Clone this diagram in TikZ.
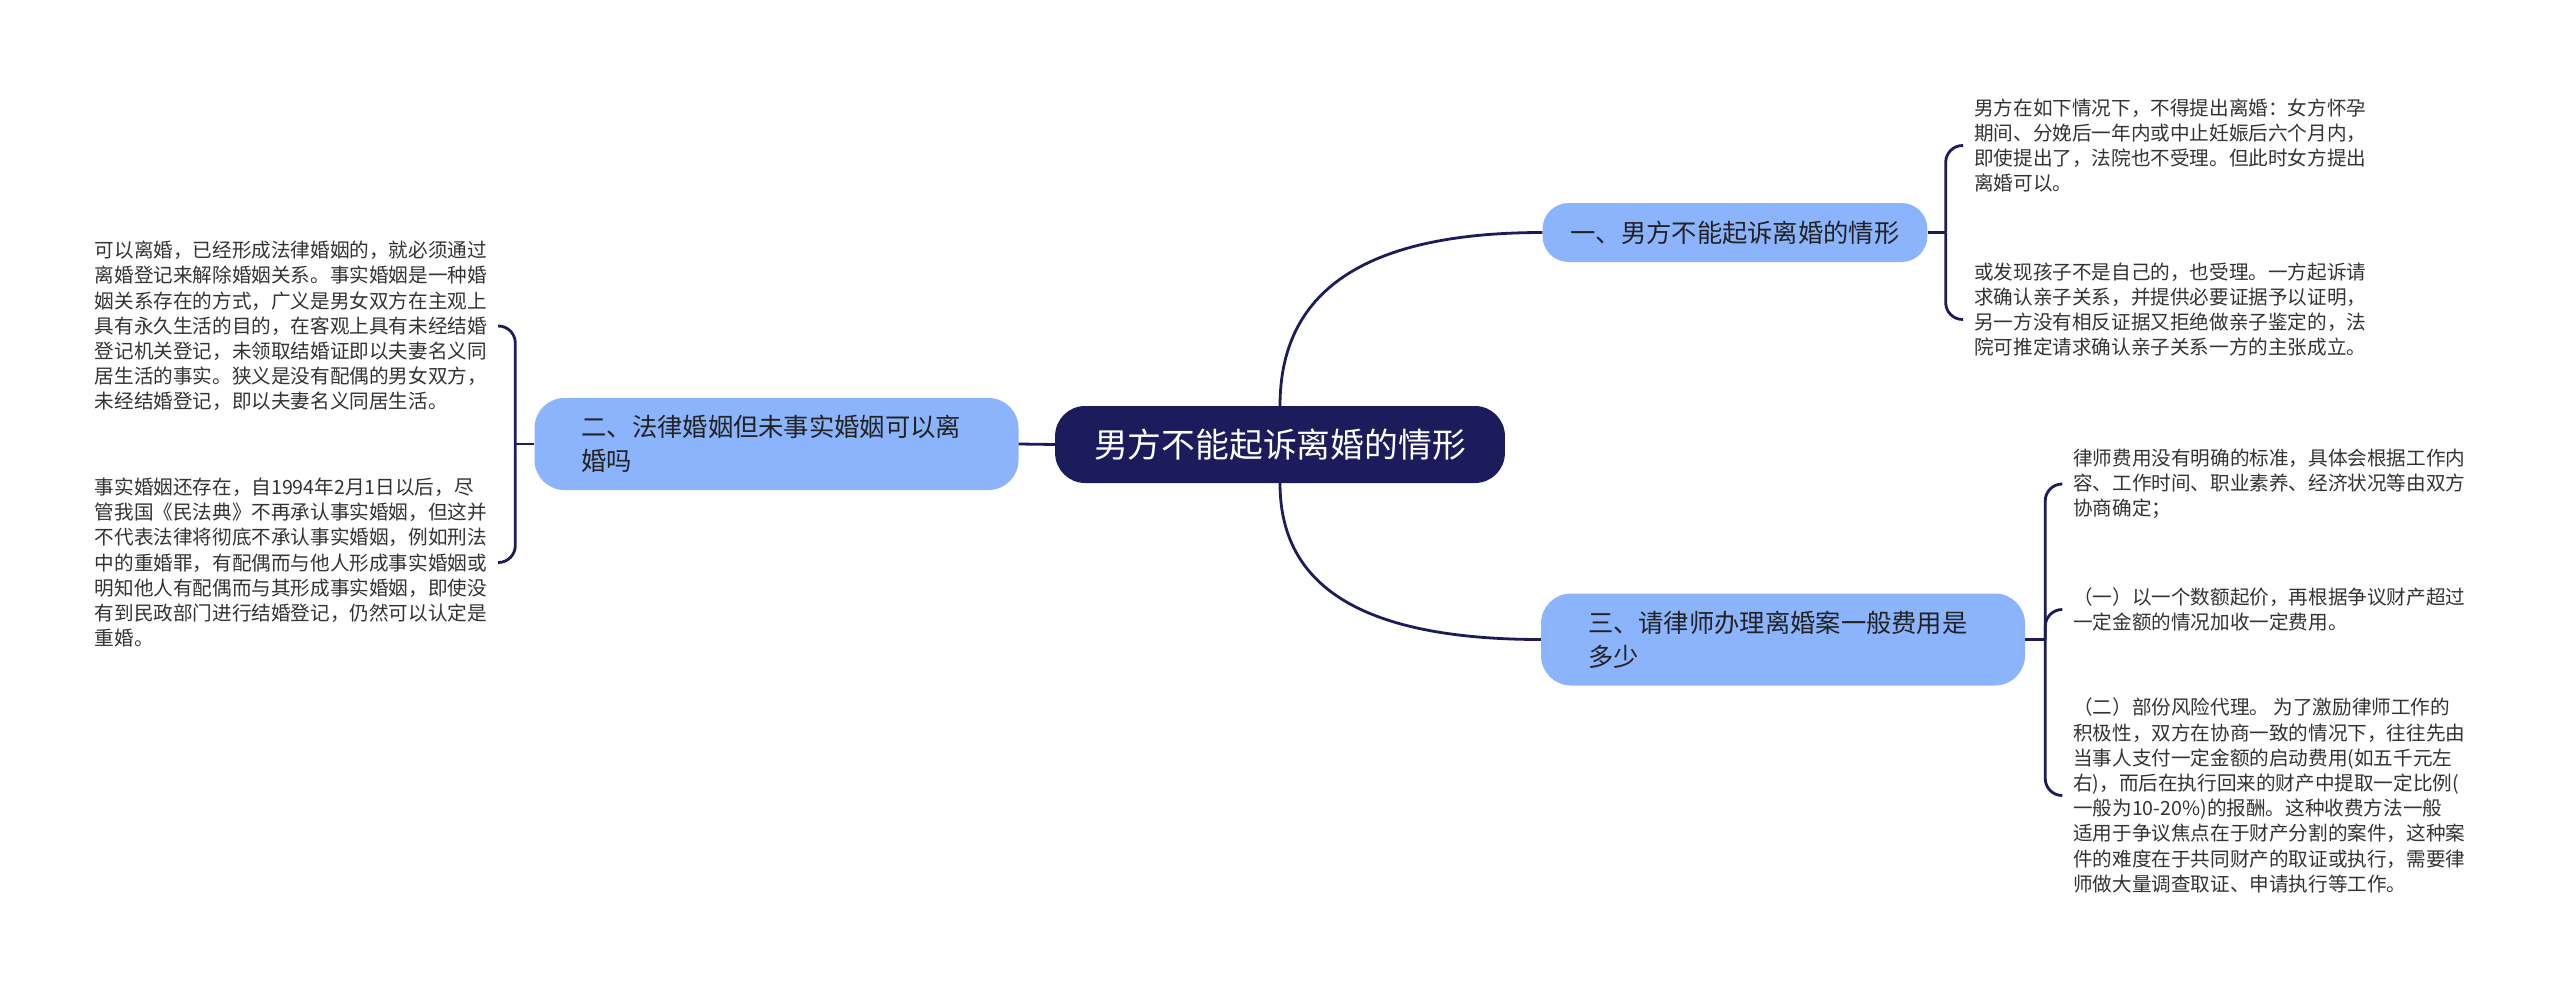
\documentclass[tikz,border=0pt]{standalone}
\usepackage{fontspec}
\setmainfont{Noto Sans CJK SC}
\definecolor{navy}{HTML}{1C1C5C}
\definecolor{lblue}{HTML}{8CB4FC}
\definecolor{leaftxt}{HTML}{333333}
\definecolor{topictxt}{HTML}{222222}
\begin{document}
\begin{tikzpicture}[x=1pt,y=-1pt,
 conn/.style={draw=navy,line width=2.8pt},
 bracket/.style={conn, rounded corners=17pt},
 rootnode/.style={fill=navy, text=white, rounded corners=30pt, inner xsep=39pt, minimum height=77pt, font=\fontsize{33.8pt}{40pt}\selectfont},
 topicone/.style={fill=lblue, text=topictxt, rounded corners=26pt, inner xsep=28pt, minimum height=59pt, font=\fontsize{25.3pt}{34pt}\selectfont},
 topictwo/.style={fill=lblue, text=topictxt, rounded corners=30pt, inner xsep=47pt, minimum height=92pt, text width=390pt, align=left, font=\fontsize{25.3pt}{34pt}\selectfont},
 leafnode/.style={text=leaftxt, align=left, inner ysep=0pt, inner xsep=11pt, font=\fontsize{19.6pt}{25.2pt}\selectfont}
]
\fill[white] (0,0) rectangle (2560,991);
\useasboundingbox (0,0) rectangle (2560,991);

\node[rootnode] (root) at (1280,444.5) {男方不能起诉离婚的情形};
\node[topicone] (t1) at (1735,232.5) {一、男方不能起诉离婚的情形};
\node[topictwo] (t2) at (776.5,444) {二、法律婚姻但未事实婚姻可以离\\婚吗};
\node[topictwo] (t3) at (1783,639.5) {三、请律师办理离婚案一般费用是\\多少};

\node[leafnode, anchor=west] (r11) at (1963,145.5) {男方在如下情况下，不得提出离婚：女方怀孕\\
期间、分娩后一年内或中止妊娠后六个月内，\\
即使提出了，法院也不受理。但此时女方提出\\
离婚可以。};
\node[leafnode, anchor=west] (r12) at (1963,309.5) {或发现孩子不是自己的，也受理。一方起诉请\\
求确认亲子关系，并提供必要证据予以证明，\\
另一方没有相反证据又拒绝做亲子鉴定的，法\\
院可推定请求确认亲子关系一方的主张成立。};

\node[leafnode, anchor=east] (l21) at (498,326) {可以离婚，已经形成法律婚姻的，就必须通过\\
离婚登记来解除婚姻关系。事实婚姻是一种婚\\
姻关系存在的方式，广义是男女双方在主观上\\
具有永久生活的目的，在客观上具有未经结婚\\
登记机关登记，未领取结婚证即以夫妻名义同\\
居生活的事实。狭义是没有配偶的男女双方，\\
未经结婚登记，即以夫妻名义同居生活。};
\node[leafnode, anchor=east] (l22) at (498,562.5) {事实婚姻还存在，自1994年2月1日以后，尽\\
管我国《民法典》不再承认事实婚姻，但这并\\
不代表法律将彻底不承认事实婚姻，例如刑法\\
中的重婚罪，有配偶而与他人形成事实婚姻或\\
明知他人有配偶而与其形成事实婚姻，即使没\\
有到民政部门进行结婚登记，仍然可以认定是\\
重婚。};

\node[leafnode, anchor=west] (r31) at (2062,484) {律师费用没有明确的标准，具体会根据工作内\\
容、工作时间、职业素养、经济状况等由双方\\
协商确定；};
\node[leafnode, anchor=west] (r32) at (2062,609.5) {（一）以一个数额起价，再根据争议财产超过\\
一定金额的情况加收一定费用。};
\node[leafnode, anchor=west] (r33) at (2062,795.5) {（二）部份风险代理。 为了激励律师工作的\\
积极性，双方在协商一致的情况下，往往先由\\
当事人支付一定金额的启动费用(如五千元左\\
右)，而后在执行回来的财产中提取一定比例(\\
一般为10-20\%)的报酬。这种收费方法一般\\
适用于争议焦点在于财产分割的案件，这种案\\
件的难度在于共同财产的取证或执行，需要律\\
师做大量调查取证、申请执行等工作。};

% main connectors
\draw[conn] (root.north) .. controls +(0,-105) and +(-192,0) .. (t1.west);
\draw[conn] (root.south) .. controls +(0,95) and +(-192,0) .. (t3.west);
\draw[conn] (root.west) -- (t2.east);

% brackets
\coordinate (j1) at ([xshift=18pt]t1.east);
\draw[conn] (t1.east) -- (j1);
\draw[bracket] (j1) |- (r11.west);
\draw[bracket] (j1) |- ([yshift=-10pt]r12.west);

\coordinate (j2) at ([xshift=-19pt]t2.west);
\draw[conn] (t2.west) -- (j2);
\draw[bracket] (j2) |- (l21.east);
\draw[bracket] (j2) |- (l22.east);

\coordinate (j3) at ([xshift=20pt]t3.east);
\draw[conn] (t3.east) -- (j3);
\draw[bracket] (j3) |- (r31.west);
\draw[bracket] (j3) |- (r32.west);
\draw[bracket] (j3) |- (r33.west);
\end{tikzpicture}
\end{document}
